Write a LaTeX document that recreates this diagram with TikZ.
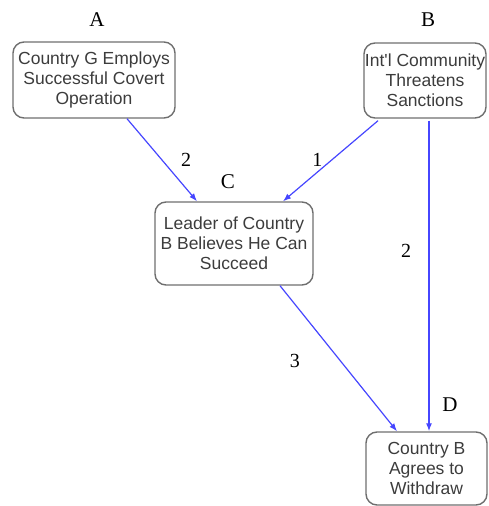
\documentclass[tikz,border=0pt]{standalone}
\usepackage{fontspec}
\setmainfont{Liberation Serif}
\newfontfamily\boxfont{Liberation Sans}
\usetikzlibrary{arrows.meta}
\definecolor{linkblue}{RGB}{70,70,255}
\definecolor{boxline}{RGB}{110,110,110}
\definecolor{boxtext}{RGB}{60,60,60}
\tikzset{
  event/.style={draw=boxline, line width=1.4pt, rounded corners=11pt,
    align=center, inner sep=0pt, text=boxtext,
    font=\boxfont\fontsize{17.5}{20}\selectfont},
  tag/.style={font=\fontsize{21}{24}\selectfont, inner sep=0pt},
  link/.style={draw=linkblue, line width=1.2pt,
    -{Latex[length=8pt,width=6pt]}},
  weight/.style={font=\fontsize{20}{24}\selectfont, inner sep=0pt}
}
\begin{document}
\begin{tikzpicture}[x=1pt,y=-1pt]
\useasboundingbox (0,0) rectangle (488,506);

% event boxes
\node[event, minimum width=162pt, minimum height=76pt] (A) at (94,80)
  {Country G Employs\\Successful Covert\\Operation};
\node[event, minimum width=122pt, minimum height=75pt] (B) at (425,80.5)
  {Int'l Community\\Threatens\\Sanctions};
\node[event, minimum width=158pt, minimum height=83pt] (C) at (234,243.5)
  {Leader of Country\\B Believes He Can\\Succeed};
\node[event, minimum width=121pt, minimum height=73pt] (D) at (426.5,468.5)
  {Country B\\Agrees to\\Withdraw};

% letters above the boxes
\node[tag] (tA) at ([xshift=3pt,yshift=22pt]A.north) {A};
\node[tag] (tB) at ([xshift=3pt,yshift=23pt]B.north) {B};
\node[tag] (tC) at ([xshift=-6pt,yshift=20pt]C.north) {C};
\node[tag] (tD) at ([xshift=23.5pt,yshift=27pt]D.north) {D};

% weighted links
\draw[link] ([xshift=33pt]A.south) -- ([xshift=-37pt]C.north)
  node[weight, pos=0.5, xshift=24pt] (wAC) {2};
\draw[link] ([xshift=-47pt,yshift=-2pt]B.south) -- ([xshift=49pt]C.north)
  node[weight, pos=0.49, xshift=-14pt] (wBC) {1};
\draw[link] ([xshift=4pt,yshift=-2pt]B.south) -- ([xshift=2.5pt]D.north)
  node[weight, pos=0.42, xshift=-23pt] (wBD) {2};
\draw[link] ([xshift=46pt]C.south) -- ([xshift=-29.5pt]D.north)
  node[weight, pos=0.52, xshift=-46pt] (wCD) {3};
\end{tikzpicture}
\end{document}
